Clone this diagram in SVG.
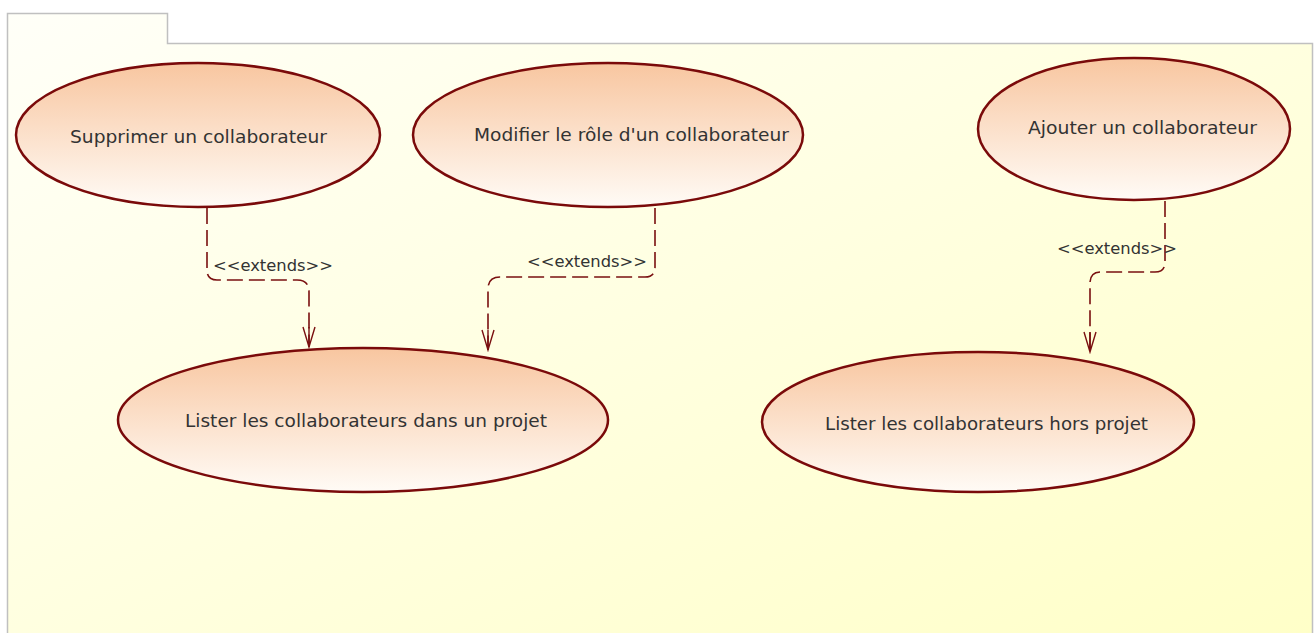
<svg xmlns="http://www.w3.org/2000/svg" width="1314" height="633" viewBox="0 0 1314 633">
<defs>
<linearGradient id="bg" x1="0" y1="0" x2="1" y2="1">
<stop offset="0" stop-color="#fffff8"/>
<stop offset="1" stop-color="#ffffc8"/>
</linearGradient>
<linearGradient id="uc" x1="0" y1="0" x2="0" y2="1">
<stop offset="0" stop-color="#f8c6a0"/>
<stop offset="1" stop-color="#fffbf6"/>
</linearGradient>
<marker id="arr" markerWidth="24" markerHeight="16" refX="22" refY="8" orient="auto" markerUnits="userSpaceOnUse" viewBox="0 0 24 16">
<path d="M2,2 L22,8 L2,14 M2,8 L22,8" fill="none" stroke="#7a1010" stroke-width="1.4"/>
</marker>
</defs>
<style>
.uc ellipse{fill:url(#uc);stroke:#7a0a0a;stroke-width:2.5}
.uc text{font-family:"DejaVu Sans","Liberation Sans",sans-serif;font-size:17px;fill:#333}
.c path{fill:none;stroke:#7a1010;stroke-width:1.6;stroke-dasharray:16,6}
.lbl{font-family:"DejaVu Sans","Liberation Sans",sans-serif;font-size:15px;fill:#333}
</style>
<rect x="0" y="0" width="1314" height="633" fill="#fff"/>
<path d="M7.5,633 L7.5,13.5 L167.5,13.5 L167.5,43.5 L1312.5,43.5 L1312.5,633" fill="url(#bg)" stroke="#c0c0c0" stroke-width="1.5"/>
<g class="c" id="connectors">
<path d="M207,208 L207,270 Q207,280 217,280 L297,280 Q309,280 309,292 L309,347" marker-end="url(#arr)"/>
<path d="M655,208 L655,267 Q655,277 645,277 L500,277 Q488,277 488,289 L488,350" marker-end="url(#arr)"/>
<path d="M1165,201 L1165,262 Q1165,272 1155,272 L1101,272 Q1090,272 1090,283 L1090,352" marker-end="url(#arr)"/>
<text class="lbl" x="213" y="271" textLength="120" lengthAdjust="spacingAndGlyphs">&lt;&lt;extends&gt;&gt;</text>
<text class="lbl" x="527" y="267" textLength="120" lengthAdjust="spacingAndGlyphs">&lt;&lt;extends&gt;&gt;</text>
<text class="lbl" x="1057" y="254" textLength="120" lengthAdjust="spacingAndGlyphs">&lt;&lt;extends&gt;&gt;</text>
</g>
<g class="uc" id="uc-supprimer"><ellipse cx="198" cy="135" rx="182" ry="72"/><text x="70" y="143" textLength="257" lengthAdjust="spacingAndGlyphs">Supprimer un collaborateur</text></g>
<g class="uc" id="uc-modifier"><ellipse cx="608" cy="135" rx="195" ry="72"/><text x="474" y="141" textLength="315" lengthAdjust="spacingAndGlyphs">Modifier le rôle d'un collaborateur</text></g>
<g class="uc" id="uc-ajouter"><ellipse cx="1134" cy="129" rx="156" ry="71"/><text x="1028" y="134" textLength="229" lengthAdjust="spacingAndGlyphs">Ajouter un collaborateur</text></g>
<g class="uc" id="uc-lister-dans"><ellipse cx="363" cy="420" rx="245" ry="72"/><text x="185" y="427" textLength="362" lengthAdjust="spacingAndGlyphs">Lister les collaborateurs dans un projet</text></g>
<g class="uc" id="uc-lister-hors"><ellipse cx="978" cy="422" rx="216" ry="70"/><text x="825" y="430" textLength="323" lengthAdjust="spacingAndGlyphs">Lister les collaborateurs hors projet</text></g>
</svg>
